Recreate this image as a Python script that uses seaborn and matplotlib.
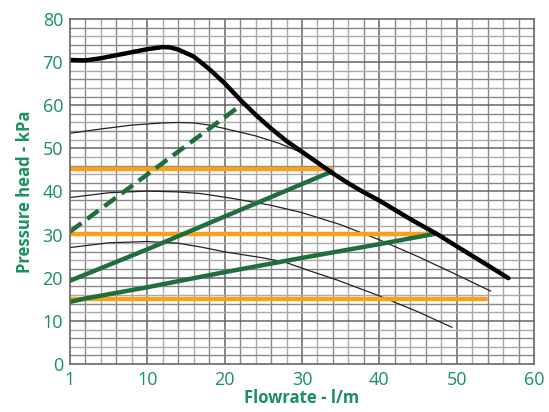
import matplotlib
matplotlib.use("Agg")
import matplotlib.pyplot as plt
import numpy as np
import seaborn as sns

sns.set_theme(style="white")
plt.rcParams["font.family"] = ["Open Sans", "DejaVu Sans"]

TEXT_C   = "#1a9060"
GREEN    = "#1f6e3b"
ORANGE   = "#f9a11b"

# ── Pump curve (max speed) ───────────────────────────────────────────────────
pump_x = [0, 2, 4, 6, 8, 10, 12, 13, 14, 16, 18, 20, 22, 24, 26, 28, 30, 32, 34,
          36, 38, 40, 44, 47.4, 50, 53, 56.7]
pump_y = [70.5, 70.4, 70.9, 71.6, 72.3, 73.0, 73.5, 73.4, 72.9, 71.3, 68.4, 65.1,
          61.3, 57.8, 54.6, 51.7, 49.2, 46.7, 44.2, 41.9, 39.8, 37.9, 33.6, 30.2,
          27.3, 24.0, 19.9]

# ── Lower speed curves (thin) ────────────────────────────────────────────────
spd3_x = [0, 4, 8, 12, 14, 16, 18, 20, 24, 27, 30]
spd3_y = [53.5, 54.5, 55.4, 55.9, 56.0, 55.9, 55.4, 54.6, 52.9, 51.2, 49.0]

spd2_x = [0, 5, 10, 14, 17, 21, 26, 30, 35, 40, 45, 50, 54.4]
spd2_y = [38.6, 39.7, 40.1, 39.9, 39.5, 38.4, 36.8, 35.1, 32.3, 28.8, 24.9, 20.7, 16.9]

spd1_x = [0, 5, 10, 14, 17, 20, 25, 28, 31, 34.5, 40, 45, 49.4]
spd1_y = [27.0, 28.1, 28.4, 28.0, 27.1, 26.0, 24.6, 23.5, 21.6, 19.5, 15.8, 12.1, 8.5]

# ── Orange constant-pressure lines ───────────────────────────────────────────
cp_y   = [45.3, 30.2, 15.1]
cp_end = [33.8, 47.2, 53.8]

# ── Green system curves ─────────────────────────────────────────────────────
sysA_x = [0, 10, 20, 33.8]
sysA_y = [19.3, 26.6, 34.2, 44.6]
sysB_x = [0, 2, 10, 20, 30, 40, 47.2]
sysB_y = [14.4, 15.2, 17.8, 21.3, 24.6, 27.8, 30.2]
sysC_x = [0, 22.4]
sysC_y = [30.7, 60.4]

fig = plt.figure(figsize=(5.49, 4.12), dpi=100)
ax = fig.add_axes([0.1275, 0.1165, 0.8452, 0.8374])

# grid
for gx in np.arange(2, 60, 2):
    if gx % 10 == 0:
        ax.axvline(gx, color="#666666", lw=1.1, zorder=0)
    else:
        ax.axvline(gx, color="#888888" if gx % 4 == 2 else "#aaaaaa", lw=1.0, zorder=0)
for gy in np.arange(2, 80, 2):
    if gy % 10 == 0:
        ax.axhline(gy, color="#666666", lw=1.1, zorder=0)
    else:
        ax.axhline(gy, color="#888888" if gy % 4 == 2 else "#aaaaaa", lw=1.0, zorder=0)

for xs, ys in [(spd3_x, spd3_y), (spd2_x, spd2_y), (spd1_x, spd1_y)]:
    sns.lineplot(x=xs, y=ys, ax=ax, color="#222222", lw=0.9, sort=False)

for y, e in zip(cp_y, cp_end):
    sns.lineplot(x=[0, e], y=[y, y], ax=ax, color=ORANGE, lw=3.2, sort=False)

sns.lineplot(x=sysA_x, y=sysA_y, ax=ax, color=GREEN, lw=3.2, sort=False)
sns.lineplot(x=sysB_x, y=sysB_y, ax=ax, color=GREEN, lw=3.2, sort=False)
sns.lineplot(x=sysC_x, y=sysC_y, ax=ax, color=GREEN, lw=3.2, sort=False,
             dashes=False, linestyle=(0, (3.2, 1.6)))

sns.lineplot(x=pump_x, y=pump_y, ax=ax, color="black", lw=3.2, sort=False)

ax.set_xlim(0, 60)
ax.set_ylim(0, 80)
ax.set_xticks(range(0, 61, 10))
ax.set_xticklabels(["1", "10", "20", "30", "40", "50", "60"])
ax.set_yticks(range(0, 81, 10))
ax.tick_params(axis="both", colors=TEXT_C, labelsize=13, length=0, pad=5)
for s in ax.spines.values():
    s.set_color("#666666")
    s.set_linewidth(1.2)

ax.set_xlabel("Flowrate - l/m", color=TEXT_C, fontsize=12, fontweight="bold", labelpad=0)
ax.set_ylabel("Pressure head - kPa", color=TEXT_C, fontsize=12, fontweight="bold", labelpad=6)

fig.savefig("out.png", dpi=100)
